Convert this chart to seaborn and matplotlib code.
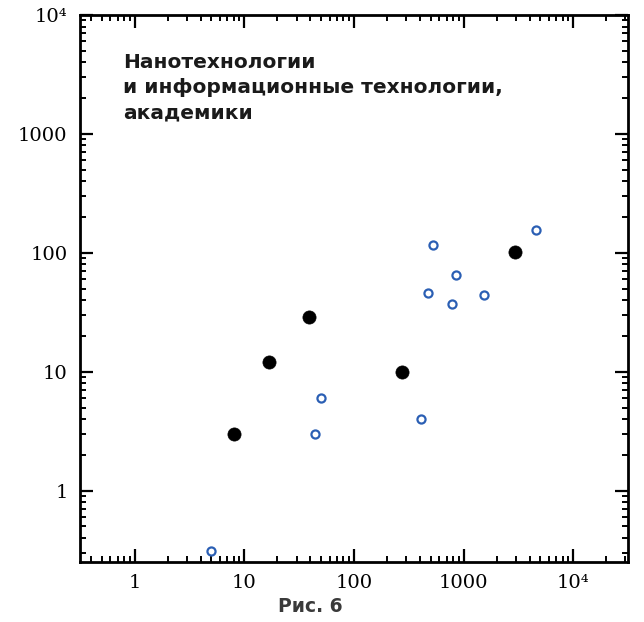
import matplotlib
matplotlib.use("Agg")
import matplotlib.pyplot as plt
import matplotlib.ticker as mticker
import seaborn as sns
import pandas as pd

# Academicians (filled black)
acad_x = [8, 16.7, 39, 273, 2950]
acad_y = [3.0, 12.1, 29, 10, 101]
# Other points (open blue)
other_x = [5, 44, 50, 406, 530, 855, 474, 790, 1550, 4560]
other_y = [0.31, 3.0, 6.0, 4.0, 116, 64.5, 45.5, 37.3, 44, 157]

x_ticks = [1, 10, 100, 1000, 10000]
x_tick_labels = ["1", "10", "100", "1000", "10\u2074"]
y_ticks = [1, 10, 100, 1000, 10000]
y_tick_labels = ["1", "10", "100", "1000", "10\u2074"]

title_text = "Нанотехнологии\nи информационные технологии,\nакадемики"
caption = "Рис. 6"

sns.set_style("white")
plt.rcParams['font.family'] = ['DejaVu Sans']

df_a = pd.DataFrame({"x": acad_x, "y": acad_y})
df_o = pd.DataFrame({"x": other_x, "y": other_y})

fig = plt.figure(figsize=(6.44, 6.22), dpi=100)
ax = fig.add_axes([80/644, 1-562/622, 548/644, 547/622])

sns.scatterplot(data=df_o, x="x", y="y", ax=ax, s=34, facecolor="white",
                edgecolor="#2b5fb4", linewidth=1.6, zorder=3)
sns.scatterplot(data=df_a, x="x", y="y", ax=ax, s=90, color="black",
                edgecolor="black", linewidth=0.5, zorder=4)

ax.set_xscale("log")
ax.set_yscale("log")
ax.set_xlim(10**-0.5, 10**4.5)
ax.set_ylim(10**-0.6, 1e4)

ax.set_xticks(x_ticks)
ax.set_xticklabels(x_tick_labels)
ax.set_yticks(y_ticks)
ax.set_yticklabels(y_tick_labels)
ax.xaxis.set_minor_locator(mticker.LogLocator(base=10, subs=range(2, 10), numticks=20))
ax.yaxis.set_minor_locator(mticker.LogLocator(base=10, subs=range(2, 10), numticks=20))
ax.xaxis.set_minor_formatter(mticker.NullFormatter())
ax.yaxis.set_minor_formatter(mticker.NullFormatter())

ax.set_xlabel("")
ax.set_ylabel("")

for sp in ax.spines.values():
    sp.set_visible(True)
    sp.set_linewidth(2.0)
    sp.set_color("black")

ax.tick_params(which="both", direction="in", top=True, right=True,
               bottom=True, left=True, color="black")
ax.tick_params(which="major", length=9.5, width=1.6, pad=9)
ax.tick_params(which="minor", length=4.5, width=1.4)

for lab in ax.get_xticklabels() + ax.get_yticklabels():
    lab.set_family(['DejaVu Serif'])
    lab.set_fontsize(14)
    lab.set_color("black")

ax.text(0.078, 0.931, title_text, transform=ax.transAxes, ha="left", va="top",
        fontsize=14.5, fontweight="bold", color="#1a1a1a", linespacing=1.42)

fig.text(310/644, 1-607/622, caption, ha="center", va="center",
         fontsize=13.5, fontweight="bold", color="#3a3a3a")

fig.savefig("out.png", dpi=100)
